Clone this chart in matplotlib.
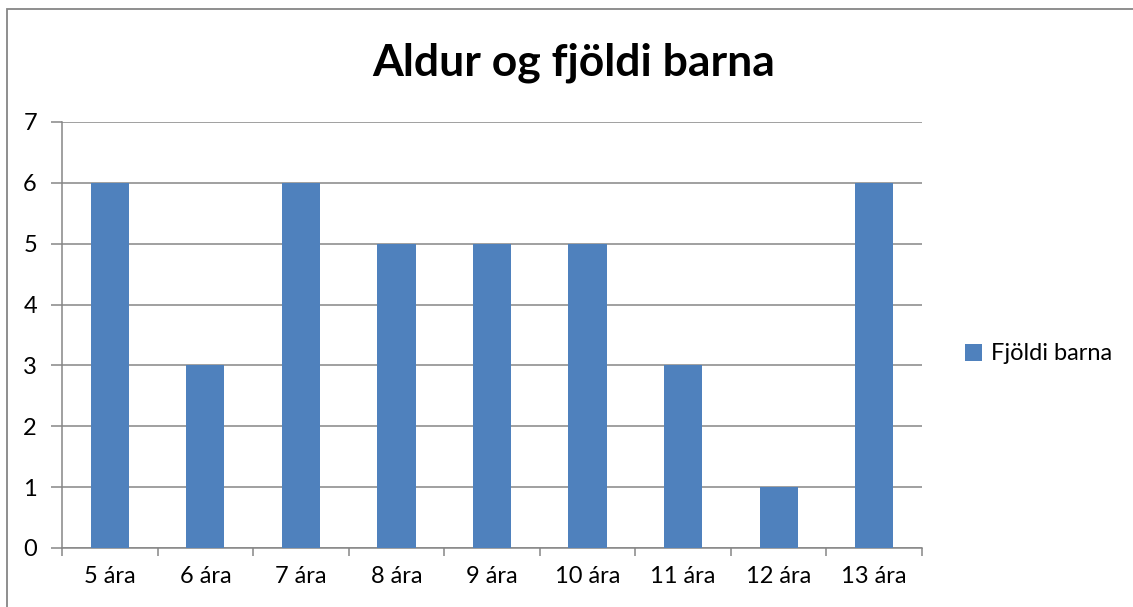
import matplotlib.pyplot as plt
from matplotlib.patches import Rectangle

plt.rcParams['font.family'] = ['Lato', 'DejaVu Sans']

categories = ['5 ára', '6 ára', '7 ára', '8 ára', '9 ára', '10 ára', '11 ára', '12 ára', '13 ára']
values = [6, 3, 6, 5, 5, 5, 3, 1, 6]

W, H = 1133, 607
fig = plt.figure(figsize=(W / 100, H / 100), dpi=100)
ax = fig.add_axes([62 / W, 1 - 548 / H, (922 - 62) / W, (548 - 122) / H])

# outer chart border
fig.add_artist(Rectangle((7 / W, -0.05), 1.2, 1 - 9 / H + 0.05, transform=fig.transFigure,
                         fill=False, edgecolor='#868686', linewidth=1.3))

x = range(len(categories))
ax.bar(x, values, width=0.4, color='#4F81BD', label='Fjöldi barna', zorder=3)

ax.set_xlim(-0.5, len(categories) - 0.5)
ax.set_ylim(0, 7)
ax.set_yticks(range(8))
ax.yaxis.grid(True, color='#868686', linewidth=1.1, zorder=0)
ax.set_xticks(list(x))
ax.set_xticklabels(categories)
ax.set_xticks([i - 0.5 for i in range(len(categories) + 1)], minor=True)
ax.tick_params(axis='x', which='major', length=0, pad=13, labelsize=17)
ax.tick_params(axis='x', which='minor', length=6, color='#868686', width=1.1)
ax.tick_params(axis='y', length=8, color='#868686', width=1.1, pad=10, labelsize=17)

for s in ['top', 'right']:
    ax.spines[s].set_visible(False)
for s in ['left', 'bottom']:
    ax.spines[s].set_color('#868686')
    ax.spines[s].set_linewidth(1.1)

fig.text(574 / W, 1 - 63 / H, 'Aldur og fjöldi barna', ha='center', va='center',
         fontsize=32, fontweight='bold')

fig.legend(loc='center left', bbox_to_anchor=(944 / W, 1 - 354 / H), frameon=False,
           fontsize=17, handlelength=0.7, handleheight=0.7, handletextpad=0.4)

fig.savefig('out.png', dpi=100)
